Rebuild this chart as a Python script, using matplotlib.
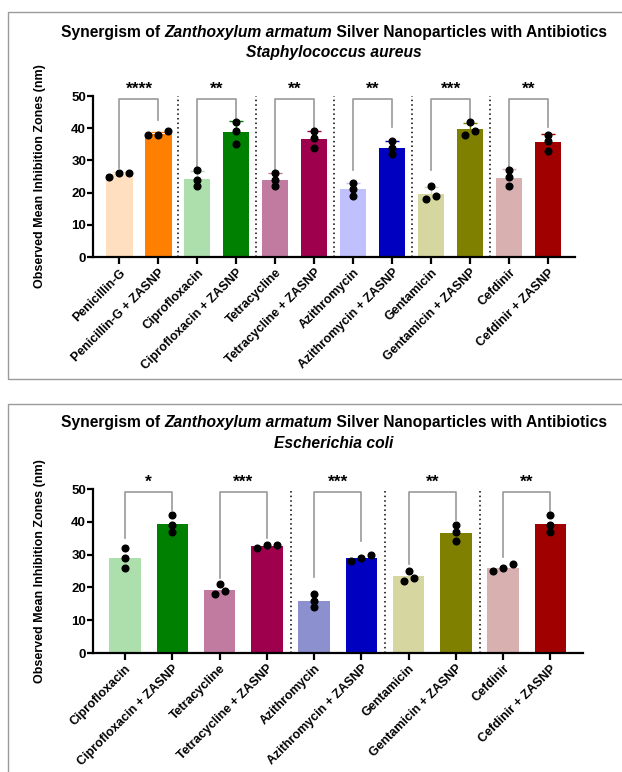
import numpy as np
import matplotlib
matplotlib.use("Agg")
import matplotlib.pyplot as plt
from matplotlib.patches import Rectangle

plt.rcParams['font.family'] = ['Liberation Sans', 'DejaVu Sans']
plt.rcParams['font.weight'] = 'bold'

# ---- Staphylococcus aureus ----
sa_labels = ["Penicillin-G", "Penicillin-G + ZASNP", "Ciprofloxacin", "Ciprofloxacin + ZASNP",
             "Tetracycline", "Tetracycline + ZASNP", "Azithromycin", "Azithromycin + ZASNP",
             "Gentamicin", "Gentamicin + ZASNP", "Cefdinir", "Cefdinir + ZASNP"]
sa_values = [[25, 26, 26], [38, 39, 38], [27, 24, 22], [42, 39, 35],
             [26, 24, 22], [39, 37, 34], [23, 21, 19], [36, 34, 32],
             [22, 19, 18], [42, 38, 39], [27, 25, 22], [38, 36, 33]]
sa_colors = ['#FFDFC0', '#FF8000', '#ADDFAD', '#008000', '#C27BA0', '#9E004D',
             '#C0C0FF', '#0000C0', '#D6D6A0', '#808000', '#D8B0B0', '#A00000']
sa_stars = ["****", "**", "**", "**", "***", "**"]
sa_leg_left = [27.6, 27.0, 26.2, 27.0, 27.0, 27.0]
sa_leg_right = [42.5, 42.5, 39.4, 40.5, 42.0, 40.5]
sa_separators = [1.5, 3.5, 5.5, 7.5, 9.5]

# ---- Escherichia coli ----
ec_labels = ["Ciprofloxacin", "Ciprofloxacin + ZASNP", "Tetracycline", "Tetracycline + ZASNP",
             "Azithromycin", "Azithromycin + ZASNP", "Gentamicin", "Gentamicin + ZASNP",
             "Cefdinir", "Cefdinir + ZASNP"]
ec_values = [[32, 29, 26], [42, 39, 37], [21, 18, 19], [32, 33, 33],
             [18, 16, 14], [30, 28, 29], [25, 22, 23], [39, 37, 34],
             [27, 25, 26], [42, 39, 37]]
ec_colors = ['#ADDFAD', '#008000', '#C27BA0', '#9E004D', '#8C90CF', '#0000C0',
             '#D6D6A0', '#808000', '#D8B0B0', '#A00000']
ec_stars = ["*", "***", "***", "**", "**"]
ec_leg_left = [35.0, 22.8, 23.3, 27.0, 29.2]
ec_leg_right = [43.6, 35.0, 34.0, 40.5, 43.0]
ec_separators = [3.5, 5.5, 7.5]

W, H = 622, 772
fig = plt.figure(figsize=(W / 100, H / 100), dpi=100)
renderer = fig.canvas.get_renderer()


def swarm_offsets(vals, spacing):
    """Spread near-equal replicate points sideways so they do not overlap."""
    vals = np.asarray(vals, float)
    order = np.argsort(vals, kind="stable")
    offs = np.zeros(len(vals))
    groups, cur = [], [order[0]]
    for a, b in zip(order[:-1], order[1:]):
        if vals[b] - vals[a] < 1.5:
            cur.append(b)
        else:
            groups.append(cur)
            cur = [b]
    groups.append(cur)
    for g in groups:
        n = len(g)
        for k, idx in enumerate(g):
            offs[idx] = (k - (n - 1) / 2) * spacing
    return offs


def draw_panel(rect, labels, values, colors, stars, leg_l, leg_r, seps, errbars):
    ax = fig.add_axes(rect)
    n = len(labels)
    x = np.arange(n)
    means = [np.mean(v) for v in values]
    sds = [np.std(v, ddof=1) for v in values]
    ax.bar(x, means, width=0.67, color=colors, zorder=2)
    if errbars:
        for xi, m, s, c in zip(x, means, sds, colors):
            ax.errorbar(xi, m, yerr=s, color=c, lw=1.0, capsize=5, capthick=1.0, zorder=3)
    px_per_unit = rect[2] * W / (n - 1 + 1.37)
    for xi, v in zip(x, values):
        offs = swarm_offsets(v, 10 / px_per_unit)
        ax.plot(xi + offs, v, 'o', color='black', ms=4.8, zorder=4, clip_on=False)
    for s in seps:
        ax.plot([s, s], [0, 50], color='black', lw=1.1, ls=(0, (1, 2)), zorder=1, clip_on=False)
    for i, st in enumerate(stars):
        l, r = 2 * i, 2 * i + 1
        ax.plot([l, l, r, r], [leg_l[i], 49, 49, leg_r[i]], color='#999999', lw=1.2,
                zorder=1, clip_on=False)
        ax.text((l + r) / 2, 49.8, st, ha='center', va='bottom', fontsize=12.5,
                fontweight='bold')
    ax.set_xlim(-0.68, n - 1 + 0.69)
    ax.set_ylim(0, 50)
    ax.set_yticks([0, 10, 20, 30, 40, 50])
    ax.set_xticks(x)
    ax.set_xticklabels(labels, rotation=45, ha='right', rotation_mode='anchor',
                       fontsize=9, fontweight='bold')
    for lab in ax.get_yticklabels():
        lab.set_fontweight('bold')
        lab.set_fontsize(9.5)
    for sp in ['top', 'right']:
        ax.spines[sp].set_visible(False)
    for sp in ['left', 'bottom']:
        ax.spines[sp].set_linewidth(1.6)
    ax.tick_params(axis='y', width=1.6, length=4, pad=1)
    ax.tick_params(axis='x', width=1.6, length=5, pad=2)
    return ax


ax1 = draw_panel([93 / W, 1 - 257 / H, 482 / W, 161 / H], sa_labels, sa_values, sa_colors,
                 sa_stars, sa_leg_left, sa_leg_right, sa_separators, True)
ax2 = draw_panel([93 / W, 1 - 653 / H, 490 / W, 164 / H], ec_labels, ec_values, ec_colors,
                 ec_stars, ec_leg_left, ec_leg_right, ec_separators, False)

for ax, (ytop, ybot) in [(ax1, (96, 257)), (ax2, (489, 653))]:
    fig.text(40 / W, 1 - (ytop + ybot) / 2 / H, "Observed Mean Inhibition Zones (nm)",
             rotation=90, ha='center', va='center', fontsize=9, fontweight='bold')

# panel frames
fig.patches.append(Rectangle((8 / W, 1 - 379 / H), 1.2, 367 / H, transform=fig.transFigure,
                             fill=False, edgecolor='#9a9a9a', lw=1.0))
fig.patches.append(Rectangle((8 / W, -0.2), 1.2, 0.2 + 1 - 404 / H, transform=fig.transFigure,
                             fill=False, edgecolor='#9a9a9a', lw=1.0))


def mixed_title(cx, cy, parts, size, width=None):
    """Centre a line made of (text, style) pieces at (cx, cy) in figure pixels.
    If width is given, the font size is scaled so the line spans that many pixels."""
    texts = []
    for s, style in parts:
        t = fig.text(0, cy / H, s, fontsize=size, fontweight='bold', fontstyle=style,
                     ha='left', va='center')
        texts.append(t)
    widths = [t.get_window_extent(renderer).width for t in texts]
    if width is not None:
        size = size * width / sum(widths)
        for t in texts:
            t.set_fontsize(size)
        widths = [t.get_window_extent(renderer).width for t in texts]
    x = cx - sum(widths) / 2
    for t, w in zip(texts, widths):
        t.set_x(x / W)
        x += w
    return size


for y1, y2, species in [(32, 52, "Staphylococcus aureus"), (423, 443, "Escherichia coli")]:
    size = mixed_title(334, H - y1, [("Synergism of ", 'normal'), ("Zanthoxylum armatum", 'italic'),
                                    (" Silver Nanoparticles with Antibiotics", 'normal')],
                       11.5, width=548)
    mixed_title(334, H - y2, [(species, 'italic')], size)

fig.savefig("out.png", dpi=100)
